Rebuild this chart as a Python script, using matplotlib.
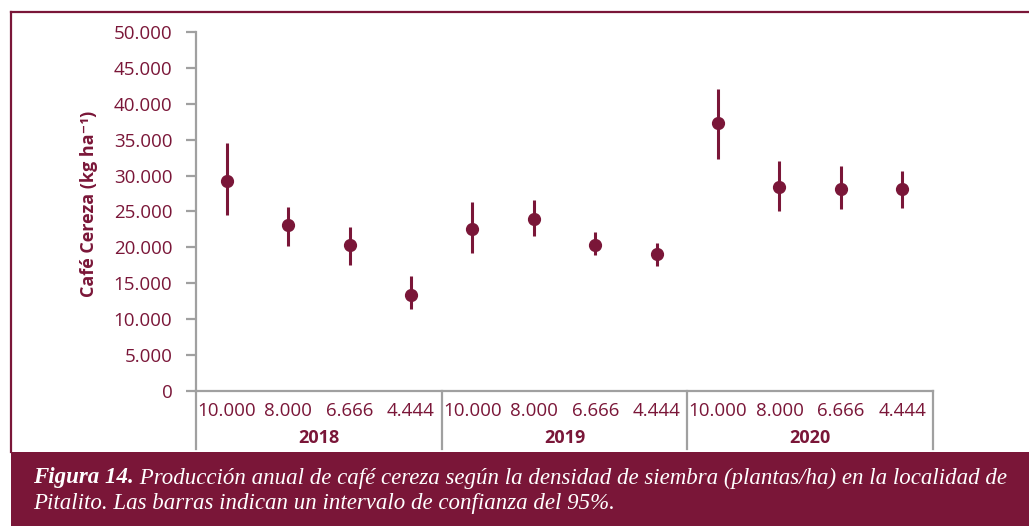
import numpy as np
import matplotlib.pyplot as plt
from matplotlib.patches import Rectangle
from matplotlib.text import Annotation
from matplotlib.transforms import blended_transform_factory

MAROON = '#7a1638'
GREY = '#a0a0a0'

# Densidad de siembra (plantas/ha) por año
years = ['2018', '2019', '2020']
densities = ['10.000', '8.000', '6.666', '4.444']

# Producción media y límites del intervalo de confianza (kg/ha)
mean = [29200, 23100, 20300, 13400,
        22600, 24000, 20400, 19100,
        37300, 28400, 28100, 28200]
upper = [34500, 25600, 22900, 16000,
         26300, 26600, 22100, 20600,
         42100, 32100, 31400, 30600]
lower = [24500, 20200, 17500, 11400,
         19200, 21600, 19000, 17400,
         32300, 25000, 25300, 25500]

yticks = [0, 5000, 10000, 15000, 20000, 25000, 30000, 35000, 40000, 45000, 50000]
ytick_labels = ['0', '5.000', '10.000', '15.000', '20.000', '25.000',
                '30.000', '35.000', '40.000', '45.000', '50.000']

plt.rcParams['font.family'] = ['Open Sans', 'DejaVu Sans']

W, H = 1029, 526
fig = plt.figure(figsize=(W / 100, H / 100), dpi=100)

# marco exterior y banda del pie de figura
fig.patches.append(Rectangle((11 / W, 0), 1 - 11 / W, 74 / H, transform=fig.transFigure,
                             facecolor=MAROON, edgecolor='none', zorder=0))
fig.add_artist(plt.Line2D([11 / W, 11 / W], [74 / H, 1 - 12 / H], color=MAROON, lw=1.6,
                          transform=fig.transFigure))
fig.add_artist(plt.Line2D([11 / W, 1], [1 - 12 / H, 1 - 12 / H], color=MAROON, lw=1.6,
                          transform=fig.transFigure))

ax = fig.add_axes([196 / W, 1 - 391 / H, (933 - 196) / W, (391 - 32) / H])

x = np.arange(len(mean))
mean_a = np.array(mean)
yerr = [mean_a - np.array(lower), np.array(upper) - mean_a]
ax.errorbar(x, mean_a, yerr=yerr, fmt='o', color=MAROON, ms=8.5, elinewidth=2.2,
            capsize=0, zorder=3)

ax.set_xlim(-0.5, len(mean) - 0.5)
ax.set_ylim(0, 50000)
ax.set_yticks(yticks)
ax.set_yticklabels(ytick_labels)
ax.set_xticks(x)
ax.set_xticklabels(densities * len(years))

for side in ['top', 'right']:
    ax.spines[side].set_visible(False)
for side in ['left', 'bottom']:
    ax.spines[side].set_color(GREY)
    ax.spines[side].set_linewidth(1.6)

ax.tick_params(axis='y', direction='out', length=7, width=1.6, color=GREY,
               labelcolor=MAROON, labelsize=13.5, pad=10)
ax.tick_params(axis='x', length=0, labelcolor=MAROON, labelsize=13.5, pad=8)

# separadores entre años y etiquetas de año
trans = blended_transform_factory(ax.transData, ax.transAxes)
n = len(densities)
for k in range(len(years) + 1):
    xb = k * n - 0.5
    ax.plot([xb, xb], [0, -58 / 359], color=GREY, lw=1.6, transform=trans,
            clip_on=False)
for k, yr in enumerate(years):
    ax.text(k * n + (n - 1) / 2, -47 / 359, yr, transform=trans, ha='center',
            va='center', color=MAROON, fontsize=13, fontweight='bold')

ax.set_ylabel('Café Cereza (kg ha⁻¹)', color=MAROON, fontsize=13,
              fontweight='bold')
ax.yaxis.set_label_coords(-98 / 737, 0.52)

# pie de figura
cap_font = 'Liberation Serif'
cap_size = 16.5
t1 = fig.text(33 / W, 1 - 478 / H, 'Figura 14.', family=cap_font, style='italic',
              fontweight='bold', color='white', fontsize=cap_size, va='center')
fig.add_artist(Annotation(
    ' Producción anual de café cereza según la densidad de siembra (plantas/ha) en la localidad de',
    xy=(1, 0.5), xycoords=t1, va='center', ha='left', family=cap_font,
    style='italic', color='white', fontsize=cap_size))
fig.text(33 / W, 1 - 504 / H,
         'Pitalito. Las barras indican un intervalo de confianza del 95%.',
         family=cap_font, style='italic', color='white', fontsize=cap_size, va='center')

fig.savefig('out.png', dpi=100)
